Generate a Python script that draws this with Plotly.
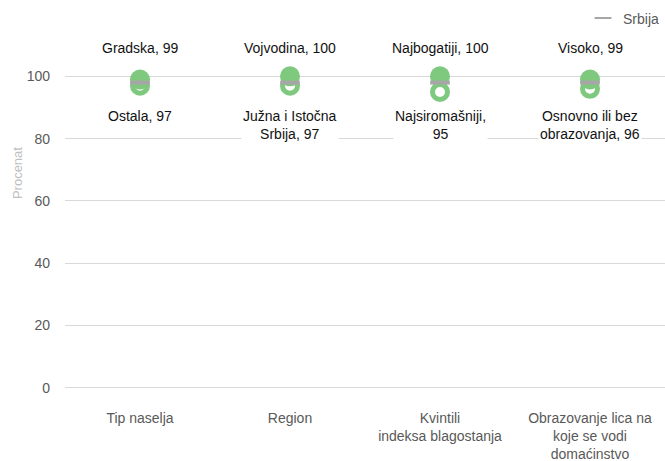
import plotly.graph_objects as go

# Disaggregation groups on the x axis
categories = ["Tip naselja", "Region", "Kvintili<br>indeksa blagostanja",
              "Obrazovanje lica na<br>koje se vodi<br>domaćinstvo"]

# Highest group per category
high_labels = ["Gradska", "Vojvodina", "Najbogatiji", "Visoko"]
high_values = [99, 100, 100, 99]

# Lowest group per category
low_labels = ["Ostala", "Južna i Istočna<br>Srbija", "Najsiromašniji,<br>", "Osnovno ili bez<br>obrazovanja"]
low_values = [97, 97, 95, 96]

# National value
srbija_value = 98

green = "#7fc97f"
gray = "#a6a6a6"
label_font = dict(family="Liberation Sans, Arial, sans-serif", size=14, color="#111111")
tick_font = dict(family="Liberation Sans Narrow, Arial Narrow, sans-serif", size=14, color="#595959")

fig = go.Figure()

fig.add_trace(go.Scatter(
    x=categories, y=low_values, mode="markers", showlegend=False,
    marker=dict(symbol="circle-open", size=15, color=green, line=dict(width=5, color=green)),
    hoverinfo="skip"))
fig.add_trace(go.Scatter(
    x=categories, y=high_values, mode="markers", showlegend=False,
    marker=dict(symbol="circle", size=20, color=green, line=dict(width=0)),
    hoverinfo="skip"))
fig.add_trace(go.Scatter(
    x=categories, y=[srbija_value] * len(categories), mode="markers", name="Srbija",
    marker=dict(symbol="line-ew", size=14, color=gray, line=dict(width=4, color=gray)),
    hoverinfo="skip"))

for cat, lab, val in zip(categories, high_labels, high_values):
    fig.add_annotation(x=cat, y=109.1, text=f"{lab}, {val}", showarrow=False,
                       yanchor="middle", font=label_font, bgcolor="white")

for cat, lab, val in zip(categories, low_labels, low_values):
    sep = "" if lab.endswith("<br>") else ", "
    fig.add_annotation(x=cat, y=90.5, text=f"{lab}{sep}{val}", showarrow=False,
                       yanchor="top", font=label_font, bgcolor="white")

fig.add_annotation(xref="paper", yref="y", x=-0.078, xanchor="center", y=69, text="Procenat",
                   textangle=-90, showarrow=False,
                   font=dict(family="Liberation Sans, Arial, sans-serif", size=13, color="#bfbfbf"))

fig.update_layout(
    width=665, height=461,
    margin=dict(l=65, r=0, t=39, b=67, autoexpand=False),
    paper_bgcolor="white", plot_bgcolor="white",
    showlegend=True,
    legend=dict(x=1.0, xanchor="right", y=1.103, yanchor="top", orientation="h",
                font=dict(family="Liberation Sans Narrow, Arial Narrow, sans-serif", size=14, color="#595959"),
                itemwidth=30, itemsizing="constant", bgcolor="rgba(0,0,0,0)"),
    xaxis=dict(range=[-0.5, 3.5], showgrid=False, showline=False, ticks="", tickfont=tick_font,
               ticklabelstandoff=14),
    yaxis=dict(range=[-2, 112], tickvals=[0, 20, 40, 60, 80, 100], showgrid=True,
               gridcolor="#d9d9d9", gridwidth=1, zeroline=False, showline=False,
               ticks="", tickfont=tick_font, ticklabelstandoff=14),
)

fig.write_html("out.html")
